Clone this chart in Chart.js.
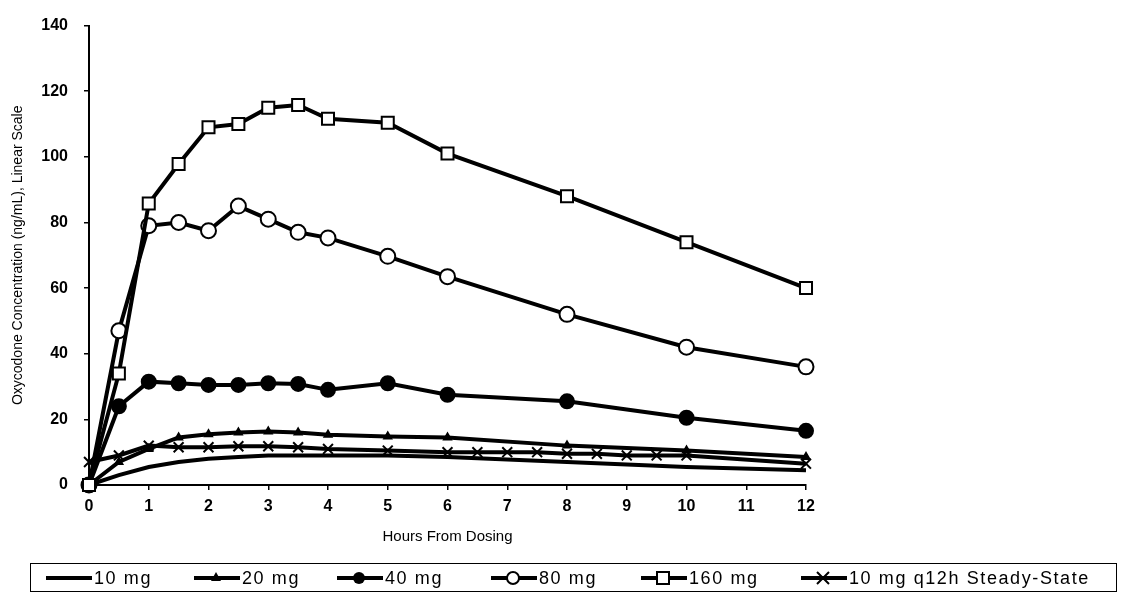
<!DOCTYPE html>
<html>
<head>
<meta charset="utf-8">
<script src="https://cdn.jsdelivr.net/npm/chart.js@4.4.1/dist/chart.umd.min.js"></script>
<style>
  body { margin: 0; background: #fff; }
  #wrap { position: relative; width: 1121px; height: 594px; overflow: hidden; }
  #legend {
    position: absolute; left: 30px; top: 563px; width: 1087px; height: 29px;
    border: 1.5px solid #000; box-sizing: border-box;
    font-family: "Liberation Sans", Arial, sans-serif; font-size: 18px; color: #000;
  }
  .item { position: absolute; top: 2px; height: 24px; display: flex; align-items: center; }
  .item span { letter-spacing: 1.6px; margin-left: 2px; }
</style>
</head>
<body>
<div id="wrap">
  <canvas id="myChart" width="1121" height="594"></canvas>
  <div id="legend"></div>
</div>
<script>
/* data */
const hours = [0, 0.5, 1, 1.5, 2, 2.5, 3, 3.5, 4, 5, 6, 8, 10, 12];
const mg10  = [0, 3, 5.5, 7, 8, 8.5, 9, 9, 9, 9, 8.5, 7, 5.5, 4.5];
const mg20  = [0, 7, 11, 14.5, 15.5, 16, 16.3, 16, 15.3, 14.8, 14.5, 12, 10.5, 8.5];
const mg40  = [0, 24, 31.5, 31, 30.5, 30.5, 31, 30.8, 29, 31, 27.5, 25.5, 20.5, 16.5];
const mg80  = [0, 47, 79, 80, 77.5, 85, 81, 77, 75.3, 69.7, 63.5, 52, 42, 36];
const mg160 = [0, 34, 85.8, 97.8, 109, 110, 115, 115.8, 111.6, 110.4, 101, 88, 74, 60];

const ssHours = [0, 0.5, 1, 1.5, 2, 2.5, 3, 3.5, 4, 5, 6, 6.5, 7, 7.5, 8, 8.5, 9, 9.5, 10, 12];
const ss10    = [7, 9, 12, 11.5, 11.5, 11.8, 11.8, 11.5, 11, 10.5, 10, 10, 10, 10, 9.5, 9.5, 9, 9, 9, 6.5];

const yTicks = [0, 20, 40, 60, 80, 100, 120, 140];
const xTicks = [0, 1, 2, 3, 4, 5, 6, 7, 8, 9, 10, 11, 12];

const labels = ["10 mg", "20 mg", "40 mg", "80 mg", "160 mg", "10 mg q12h Steady-State"];

function pts(xs, ys){
    return xs.map((x, i) => ({ x: x, y: ys[i] }));
}

function line(label, data, style, radius, fill){
    return {
        label, data,
        borderColor: "#000",
        borderWidth: 4,
        tension: 0,
        clip: false,
        pointStyle: style,
        pointRadius: radius,
        pointBorderWidth: 2,
        pointBorderColor: "#000",
        pointBackgroundColor: fill,
    };
}

const datasets = [
    line(labels[4], pts(hours, mg160), "rect", 8.5, "#fff"),
    line(labels[3], pts(hours, mg80), "circle", 7.5, "#fff"),
    line(labels[2], pts(hours, mg40), "circle", 7, "#000"),
    line(labels[1], pts(hours, mg20), "triangle", 4, "#000"),
    line(labels[5], pts(ssHours, ss10), "crossRot", 7, "#000"),
    line(labels[0], pts(hours, mg10), "circle", 0, "#000"),
];

const tickFont = { family: "Liberation Sans", size: 16, weight: "bold" };

const config = {
    type: "line",
    data: { datasets },
    options: {
        responsive: false,
        animation: false,
        layout: { padding: { left: 0, top: 17, right: 315, bottom: 39 } },
        plugins: { legend: { display: false }, tooltip: { enabled: false } },
        scales: {
            x: {
                type: "linear", min: 0, max: 12,
                afterBuildTicks: (s) => { s.ticks = xTicks.map(v => ({ value: v })); },
                afterFit: (s) => { s.height = 70; },
                grid: { drawOnChartArea: false, color: "#000", tickLength: 5, lineWidth: 1.5 },
                border: { color: "#000", width: 2 },
                ticks: { color: "#000", font: tickFont, padding: 7 },
                title: { display: true, text: "Hours From Dosing", color: "#000",
                         font: { family: "Liberation Sans", size: 15 }, padding: { top: 0, bottom: 9 } },
            },
            y: {
                min: 0, max: 140,
                afterBuildTicks: (s) => { s.ticks = yTicks.map(v => ({ value: v })); },
                afterFit: (s) => { s.width = 89; },
                grid: { drawOnChartArea: false, color: "#000", tickLength: 5, lineWidth: 1.5 },
                border: { color: "#000", width: 2 },
                ticks: { color: "#000", font: tickFont, padding: 16 },
                title: { display: true, text: "Oxycodone Concentration (ng/mL), Linear Scale", color: "#000",
                         font: { family: "Liberation Sans", size: 14 }, padding: { top: 10, bottom: 0 } },
            },
        },
    },
};

const ctx = document.getElementById("myChart").getContext("2d");
const myChart = new Chart(ctx, config);

/* legend: line + marker then label */
const legendX = [15, 163, 306, 460, 610, 770];
const marks = [
    '',
    '<polygon points="22,5 27,14 17,14" fill="#000"/>',
    '<circle cx="22" cy="11" r="6" fill="#000"/>',
    '<circle cx="22" cy="11" r="6" fill="#fff" stroke="#000" stroke-width="2"/>',
    '<rect x="16" y="5" width="12" height="12" fill="#fff" stroke="#000" stroke-width="2"/>',
    '<path d="M16 5 L28 17 M28 5 L16 17" stroke="#000" stroke-width="2"/>',
];
const legend = document.getElementById("legend");
labels.forEach((lab, i) => {
    const d = document.createElement("div");
    d.className = "item";
    d.style.left = legendX[i] + "px";
    d.innerHTML = '<svg width="46" height="22"><line x1="0" y1="11" x2="46" y2="11" stroke="#000" stroke-width="4"/>' +
        marks[i] + '</svg><span>' + lab + '</span>';
    legend.appendChild(d);
});
</script>
</body>
</html>
